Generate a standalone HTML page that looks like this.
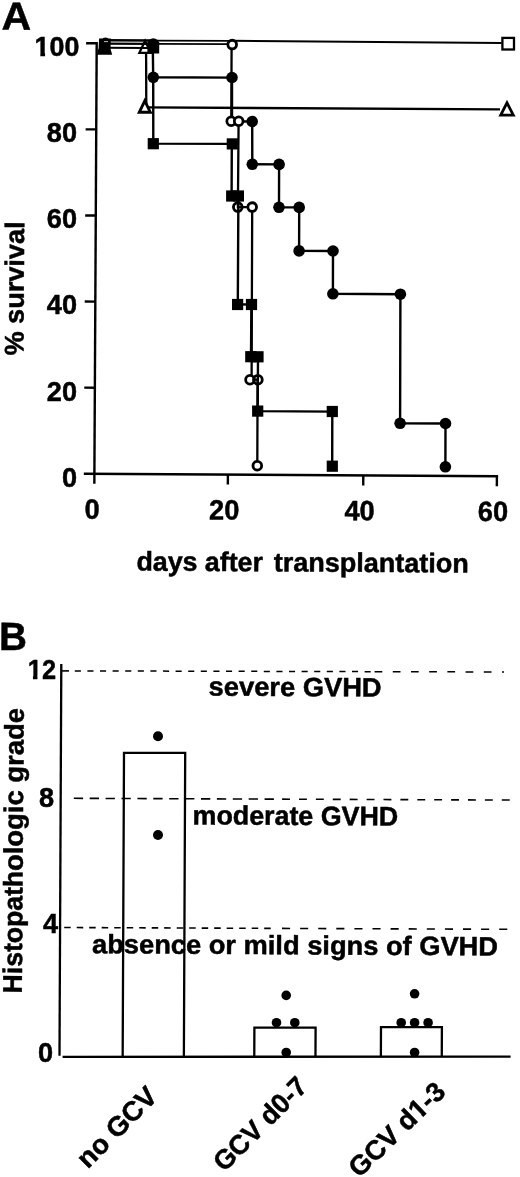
<!DOCTYPE html>
<html><head><meta charset="utf-8"><title>Figure</title>
<style>html,body{margin:0;padding:0;background:#fff}svg{display:block}text{fill:#000}</style></head>
<body>
<svg width="520" height="1177" viewBox="0 0 520 1177">
<text x="1.60" y="29.40" font-size="39" text-anchor="start" font-family="Liberation Sans, Arial, Helvetica, sans-serif" font-weight="bold" stroke="#000" stroke-width="0.5" stroke-linejoin="round" transform="rotate(0.33 1.60 29.40)" textLength="29.6" lengthAdjust="spacingAndGlyphs">A</text>
<line x1="96.70" y1="42.10" x2="94.35" y2="483.80" stroke="#000" stroke-width="2.4" />
<line x1="83.80" y1="473.73" x2="498.10" y2="476.20" stroke="#000" stroke-width="2.4" />
<line x1="86.10" y1="43.24" x2="96.70" y2="43.30" stroke="#000" stroke-width="2.4" />
<text x="79.40" y="56.10" font-size="28.0" text-anchor="end" font-family="Liberation Sans, Arial, Helvetica, sans-serif" font-weight="bold" stroke="#000" stroke-width="0.5" stroke-linejoin="round" transform="rotate(0 79.40 56.10)" textLength="44.8" lengthAdjust="spacingAndGlyphs">100</text>
<line x1="85.64" y1="129.34" x2="96.24" y2="129.40" stroke="#000" stroke-width="2.4" />
<text x="77.00" y="142.20" font-size="28.0" text-anchor="end" font-family="Liberation Sans, Arial, Helvetica, sans-serif" font-weight="bold" stroke="#000" stroke-width="0.5" stroke-linejoin="round" transform="rotate(0 77.00 142.20)" textLength="30.2" lengthAdjust="spacingAndGlyphs">80</text>
<line x1="85.18" y1="215.44" x2="95.78" y2="215.50" stroke="#000" stroke-width="2.4" />
<text x="77.00" y="228.30" font-size="28.0" text-anchor="end" font-family="Liberation Sans, Arial, Helvetica, sans-serif" font-weight="bold" stroke="#000" stroke-width="0.5" stroke-linejoin="round" transform="rotate(0 77.00 228.30)" textLength="30.2" lengthAdjust="spacingAndGlyphs">60</text>
<line x1="84.72" y1="301.54" x2="95.32" y2="301.60" stroke="#000" stroke-width="2.4" />
<text x="77.00" y="314.40" font-size="28.0" text-anchor="end" font-family="Liberation Sans, Arial, Helvetica, sans-serif" font-weight="bold" stroke="#000" stroke-width="0.5" stroke-linejoin="round" transform="rotate(0 77.00 314.40)" textLength="30.2" lengthAdjust="spacingAndGlyphs">40</text>
<line x1="84.26" y1="387.64" x2="94.86" y2="387.70" stroke="#000" stroke-width="2.4" />
<text x="77.00" y="400.50" font-size="28.0" text-anchor="end" font-family="Liberation Sans, Arial, Helvetica, sans-serif" font-weight="bold" stroke="#000" stroke-width="0.5" stroke-linejoin="round" transform="rotate(0 77.00 400.50)" textLength="30.2" lengthAdjust="spacingAndGlyphs">20</text>
<text x="77.00" y="486.60" font-size="28.0" text-anchor="end" font-family="Liberation Sans, Arial, Helvetica, sans-serif" font-weight="bold" stroke="#000" stroke-width="0.5" stroke-linejoin="round" transform="rotate(0 77.00 486.60)" textLength="15.1" lengthAdjust="spacingAndGlyphs">0</text>
<text x="92.00" y="518.70" font-size="28" text-anchor="middle" font-family="Liberation Sans, Arial, Helvetica, sans-serif" font-weight="bold" stroke="#000" stroke-width="0.5" stroke-linejoin="round" transform="rotate(0.33 92.00 518.70)" textLength="15.1" lengthAdjust="spacingAndGlyphs">0</text>
<line x1="227.90" y1="474.60" x2="227.84" y2="484.60" stroke="#000" stroke-width="2.4" />
<text x="224.20" y="519.50" font-size="28" text-anchor="middle" font-family="Liberation Sans, Arial, Helvetica, sans-serif" font-weight="bold" stroke="#000" stroke-width="0.5" stroke-linejoin="round" transform="rotate(0.33 224.20 519.50)" textLength="30.2" lengthAdjust="spacingAndGlyphs">20</text>
<line x1="363.30" y1="475.40" x2="363.24" y2="485.40" stroke="#000" stroke-width="2.4" />
<text x="359.60" y="520.30" font-size="28" text-anchor="middle" font-family="Liberation Sans, Arial, Helvetica, sans-serif" font-weight="bold" stroke="#000" stroke-width="0.5" stroke-linejoin="round" transform="rotate(0.33 359.60 520.30)" textLength="30.2" lengthAdjust="spacingAndGlyphs">40</text>
<line x1="496.90" y1="476.20" x2="496.84" y2="486.20" stroke="#000" stroke-width="2.4" />
<text x="492.90" y="521.10" font-size="28" text-anchor="middle" font-family="Liberation Sans, Arial, Helvetica, sans-serif" font-weight="bold" stroke="#000" stroke-width="0.5" stroke-linejoin="round" transform="rotate(0.33 492.90 521.10)" textLength="30.2" lengthAdjust="spacingAndGlyphs">60</text>
<text x="23.40" y="355.50" font-size="27" text-anchor="start" font-family="Liberation Sans, Arial, Helvetica, sans-serif" font-weight="bold" stroke="#000" stroke-width="0.5" stroke-linejoin="round" transform="rotate(-89.67 23.40 355.50)" textLength="134" lengthAdjust="spacingAndGlyphs">% survival</text>
<text x="136.40" y="570.60" font-size="27" text-anchor="start" font-family="Liberation Sans, Arial, Helvetica, sans-serif" font-weight="bold" stroke="#000" stroke-width="0.5" stroke-linejoin="round" transform="rotate(0.33 136.40 570.60)" textLength="126.5" lengthAdjust="spacingAndGlyphs">days after</text>
<text x="273.70" y="571.40" font-size="27" text-anchor="start" font-family="Liberation Sans, Arial, Helvetica, sans-serif" font-weight="bold" stroke="#000" stroke-width="0.5" stroke-linejoin="round" transform="rotate(0.33 273.70 571.40)" textLength="195.2" lengthAdjust="spacingAndGlyphs">transplantation</text>
<rect x="35.0" y="52.7" width="5.35" height="4.80" fill="#fff"/>
<rect x="45.05" y="52.7" width="4.85" height="4.80" fill="#fff"/>
<polyline points="104.00,40.20 153.00,40.50" fill="none" stroke="#000" stroke-width="2.6" stroke-linejoin="miter"/>
<polyline points="104.00,43.55 153.00,43.80" fill="none" stroke="#000" stroke-width="2.3" stroke-linejoin="miter"/>
<polyline points="104.00,47.80 150.00,48.00" fill="none" stroke="#000" stroke-width="2.1" stroke-linejoin="miter"/>
<polyline points="153.00,40.60 232.00,40.90" fill="none" stroke="#000" stroke-width="1.7" stroke-linejoin="miter"/>
<polyline points="153.00,43.80 232.00,44.10" fill="none" stroke="#000" stroke-width="1.7" stroke-linejoin="miter"/>
<polyline points="232.00,40.80 501.50,42.90" fill="none" stroke="#000" stroke-width="2.0" stroke-linejoin="miter"/>
<polyline points="146.10,53.00 146.30,107.40" fill="none" stroke="#000" stroke-width="2.3" stroke-linejoin="miter"/>
<polyline points="146.30,107.40 500.00,109.40" fill="none" stroke="#000" stroke-width="2.3" stroke-linejoin="miter"/>
<polyline points="152.80,46.00 153.20,77.30 232.00,77.60 232.00,121.40 252.20,121.50 252.30,164.30 279.10,164.40 279.00,207.30 299.20,207.40 299.10,250.90 333.00,251.00 332.90,293.70 400.40,294.20 400.10,423.30 445.50,423.50 445.40,466.80" fill="none" stroke="#000" stroke-width="2.4" stroke-linejoin="miter"/>
<polyline points="153.20,77.00 153.30,143.60 231.80,143.90 231.60,196.00 238.40,196.00 237.80,304.40 251.40,304.50 251.00,356.70 258.00,356.80 257.70,411.10 332.30,411.60 332.20,466.20" fill="none" stroke="#000" stroke-width="2.4" stroke-linejoin="miter"/>
<polyline points="231.60,44.00 231.30,121.30 238.60,121.40 237.90,207.00 252.20,207.10 251.60,379.60 257.60,379.70 257.30,465.70" fill="none" stroke="#000" stroke-width="2.3" stroke-linejoin="miter"/>
<polygon points="96.9,54.7 98.6,48 99.1,38.5 110.85,38.6 110.5,48.8 112.2,54.7" fill="#000"/>
<ellipse cx="105.5" cy="39.4" rx="2.9" ry="1.8" fill="#000"/>
<line x1="104.00" y1="41.60" x2="108.00" y2="41.60" stroke="#fff" stroke-width="1.0" opacity="0.75"/>
<polygon points="145.10,40.90 150.90,52.90 139.30,52.90" fill="none" stroke="#000" stroke-width="2.2" stroke-linejoin="miter"/>
<rect x="147.40" y="41.70" width="11.8" height="11.8" fill="#000"/>
<circle cx="153.30" cy="43.80" r="5.6" fill="#000"/>
<polygon points="144.80,100.90 150.30,112.20 139.30,112.20" fill="#fff" stroke="#000" stroke-width="2.9" stroke-linejoin="miter"/>
<rect x="502.40" y="37.90" width="11.6" height="11.6" fill="#fff" stroke="#000" stroke-width="2.3"/>
<polygon points="507.00,102.80 513.30,115.20 500.70,115.20" fill="#fff" stroke="#000" stroke-width="2.8" stroke-linejoin="miter"/>
<circle cx="153.30" cy="77.30" r="5.8" fill="#000"/>
<circle cx="232.00" cy="77.50" r="5.8" fill="#000"/>
<circle cx="252.20" cy="121.50" r="5.8" fill="#000"/>
<circle cx="252.30" cy="164.30" r="5.8" fill="#000"/>
<circle cx="279.10" cy="164.40" r="5.8" fill="#000"/>
<circle cx="279.00" cy="207.30" r="5.8" fill="#000"/>
<circle cx="299.20" cy="207.40" r="5.8" fill="#000"/>
<circle cx="299.10" cy="250.90" r="5.8" fill="#000"/>
<circle cx="333.00" cy="251.00" r="5.8" fill="#000"/>
<circle cx="332.90" cy="293.80" r="5.8" fill="#000"/>
<circle cx="400.40" cy="294.20" r="5.8" fill="#000"/>
<circle cx="400.10" cy="423.30" r="5.8" fill="#000"/>
<circle cx="445.50" cy="423.50" r="5.8" fill="#000"/>
<circle cx="445.40" cy="466.80" r="5.8" fill="#000"/>
<rect x="147.70" y="138.10" width="11.2" height="11.2" fill="#000"/>
<rect x="226.70" y="138.30" width="11.2" height="11.2" fill="#000"/>
<rect x="226.10" y="190.40" width="11.2" height="11.2" fill="#000"/>
<rect x="232.80" y="190.40" width="11.2" height="11.2" fill="#000"/>
<rect x="232.00" y="298.90" width="11.2" height="11.2" fill="#000"/>
<rect x="245.90" y="298.90" width="11.2" height="11.2" fill="#000"/>
<rect x="245.20" y="351.10" width="11.2" height="11.2" fill="#000"/>
<rect x="252.40" y="351.20" width="11.2" height="11.2" fill="#000"/>
<rect x="252.10" y="405.50" width="11.2" height="11.2" fill="#000"/>
<rect x="326.70" y="405.90" width="11.2" height="11.2" fill="#000"/>
<rect x="326.70" y="460.60" width="11.2" height="11.2" fill="#000"/>
<circle cx="232.20" cy="44.60" r="4.35" fill="#fff" stroke="#000" stroke-width="2.8"/>
<circle cx="231.20" cy="121.30" r="4.35" fill="#fff" stroke="#000" stroke-width="2.8"/>
<circle cx="238.70" cy="121.30" r="4.35" fill="#fff" stroke="#000" stroke-width="2.8"/>
<circle cx="237.80" cy="207.10" r="4.35" fill="none" stroke="#000" stroke-width="2.8"/>
<circle cx="252.20" cy="207.10" r="4.35" fill="#fff" stroke="#000" stroke-width="2.8"/>
<circle cx="250.00" cy="379.70" r="4.35" fill="#fff" stroke="#000" stroke-width="2.8"/>
<circle cx="257.90" cy="379.70" r="4.35" fill="none" stroke="#000" stroke-width="2.8"/>
<circle cx="257.30" cy="465.70" r="4.35" fill="#fff" stroke="#000" stroke-width="2.8"/>
<text x="-1.10" y="650.00" font-size="39.5" text-anchor="start" font-family="Liberation Sans, Arial, Helvetica, sans-serif" font-weight="bold" stroke="#000" stroke-width="0.5" stroke-linejoin="round" transform="rotate(0.33 -1.10 650.00)" textLength="27.9" lengthAdjust="spacingAndGlyphs">B</text>
<line x1="61.30" y1="664.00" x2="59.50" y2="1055.80" stroke="#000" stroke-width="2.3" />
<line x1="62.60" y1="1056.80" x2="510.60" y2="1056.70" stroke="#000" stroke-width="2.3" />
<line x1="61.30" y1="670.90" x2="69.00" y2="670.90" stroke="#000" stroke-width="1.6" />
<line x1="74.80" y1="670.90" x2="372.00" y2="671.65" stroke="#000" stroke-width="1.5" stroke-dasharray="6.1 6.5"/>
<line x1="374.60" y1="671.65" x2="504.00" y2="672.00" stroke="#000" stroke-width="1.5" stroke-dasharray="7.7 10.5"/>
<line x1="73.80" y1="798.30" x2="279.00" y2="799.15" stroke="#000" stroke-width="1.6" stroke-dasharray="9.3 6.6"/>
<line x1="282.10" y1="799.15" x2="516.50" y2="800.10" stroke="#000" stroke-width="1.6" stroke-dasharray="7.9 9.0"/>
<line x1="64.20" y1="927.50" x2="276.50" y2="928.40" stroke="#000" stroke-width="1.6" stroke-dasharray="6.5 6.0"/>
<line x1="282.00" y1="928.40" x2="508.00" y2="929.30" stroke="#000" stroke-width="1.6" stroke-dasharray="8.1 10.0"/>
<text x="56.00" y="679.40" font-size="28" text-anchor="end" font-family="Liberation Sans, Arial, Helvetica, sans-serif" font-weight="bold" stroke="#000" stroke-width="0.5" stroke-linejoin="round" transform="rotate(0 56.00 679.40)" textLength="28.2" lengthAdjust="spacingAndGlyphs">12</text>
<rect x="28.0" y="675.6" width="4.95" height="4.90" fill="#fff"/>
<rect x="37.45" y="675.6" width="4.85" height="4.90" fill="#fff"/>
<text x="54.00" y="807.00" font-size="28" text-anchor="end" font-family="Liberation Sans, Arial, Helvetica, sans-serif" font-weight="bold" stroke="#000" stroke-width="0.5" stroke-linejoin="round" transform="rotate(0 54.00 807.00)" textLength="15.1" lengthAdjust="spacingAndGlyphs">8</text>
<text x="58.00" y="933.30" font-size="28" text-anchor="end" font-family="Liberation Sans, Arial, Helvetica, sans-serif" font-weight="bold" stroke="#000" stroke-width="0.5" stroke-linejoin="round" transform="rotate(0 58.00 933.30)" textLength="15.1" lengthAdjust="spacingAndGlyphs">4</text>
<text x="53.00" y="1061.90" font-size="28" text-anchor="end" font-family="Liberation Sans, Arial, Helvetica, sans-serif" font-weight="bold" stroke="#000" stroke-width="0.5" stroke-linejoin="round" transform="rotate(0 53.00 1061.90)" textLength="15.1" lengthAdjust="spacingAndGlyphs">0</text>
<text x="21.80" y="993.40" font-size="27" text-anchor="start" font-family="Liberation Sans, Arial, Helvetica, sans-serif" font-weight="bold" stroke="#000" stroke-width="0.5" stroke-linejoin="round" transform="rotate(-89.6 21.80 993.40)" textLength="122.4" lengthAdjust="spacingAndGlyphs">Histopath</text>
<text x="22.65" y="871.00" font-size="27" text-anchor="start" font-family="Liberation Sans, Arial, Helvetica, sans-serif" font-weight="bold" stroke="#000" stroke-width="0.5" stroke-linejoin="round" transform="rotate(-89.6 22.65 871.00)" textLength="163.0" lengthAdjust="spacingAndGlyphs">ologic grade</text>
<text x="208.60" y="695.60" font-size="26.5" text-anchor="start" font-family="Liberation Sans, Arial, Helvetica, sans-serif" font-weight="bold" stroke="#000" stroke-width="0.5" stroke-linejoin="round" transform="rotate(0.33 208.60 695.60)" textLength="173" lengthAdjust="spacingAndGlyphs">severe GVHD</text>
<text x="192.60" y="824.40" font-size="26.8" text-anchor="start" font-family="Liberation Sans, Arial, Helvetica, sans-serif" font-weight="bold" stroke="#000" stroke-width="0.5" stroke-linejoin="round" transform="rotate(0.33 192.60 824.40)" textLength="205.5" lengthAdjust="spacingAndGlyphs">moderate GVHD</text>
<text x="92.00" y="953.20" font-size="26.5" text-anchor="start" font-family="Liberation Sans, Arial, Helvetica, sans-serif" font-weight="bold" stroke="#000" stroke-width="0.5" stroke-linejoin="round" transform="rotate(0.33 92.00 953.20)" textLength="406" lengthAdjust="spacingAndGlyphs">absence or mild signs of GVHD</text>
<polyline points="122.67,1056.80 124.00,752.80 185.20,752.90 183.87,1056.80" fill="none" stroke="#000" stroke-width="2.3" stroke-linejoin="miter"/>
<polyline points="254.27,1056.80 254.40,1027.60 315.60,1027.70 315.47,1056.80" fill="none" stroke="#000" stroke-width="2.3" stroke-linejoin="miter"/>
<polyline points="380.87,1056.80 381.00,1027.10 441.90,1027.20 441.77,1056.80" fill="none" stroke="#000" stroke-width="2.3" stroke-linejoin="miter"/>
<circle cx="158" cy="736.3" r="5.0" fill="#000"/>
<circle cx="158" cy="835" r="5.0" fill="#000"/>
<circle cx="286.2" cy="995.4" r="4.8" fill="#000"/>
<circle cx="276.5" cy="1022.7" r="4.8" fill="#000"/>
<circle cx="294.8" cy="1022.7" r="4.8" fill="#000"/>
<circle cx="286.2" cy="1052.5" r="4.8" fill="#000"/>
<circle cx="414.6" cy="993.8" r="4.8" fill="#000"/>
<circle cx="401.2" cy="1022.7" r="4.8" fill="#000"/>
<circle cx="414.6" cy="1022.7" r="4.8" fill="#000"/>
<circle cx="428.1" cy="1022.7" r="4.8" fill="#000"/>
<circle cx="414.6" cy="1052.5" r="4.8" fill="#000"/>
<text x="87.80" y="1169.40" font-size="27.5" text-anchor="start" font-family="Liberation Sans, Arial, Helvetica, sans-serif" font-weight="bold" stroke="#000" stroke-width="0.5" stroke-linejoin="round" transform="rotate(-45 87.80 1169.40)">no GCV</text>
<text x="224.20" y="1172.80" font-size="27.2" text-anchor="start" font-family="Liberation Sans, Arial, Helvetica, sans-serif" font-weight="bold" stroke="#000" stroke-width="0.5" stroke-linejoin="round" transform="rotate(-45 224.20 1172.80)" textLength="120" lengthAdjust="spacingAndGlyphs">GCV d0-7</text>
<text x="359.20" y="1178.40" font-size="27.2" text-anchor="start" font-family="Liberation Sans, Arial, Helvetica, sans-serif" font-weight="bold" stroke="#000" stroke-width="0.5" stroke-linejoin="round" transform="rotate(-44 359.20 1178.40)">GCV d1-3</text>
<g transform="translate(359.2 1178.4) rotate(-44)"><rect x="83.7" y="-3.8" width="4.95" height="4.8" fill="#fff"/><rect x="93.5" y="-3.8" width="4.5" height="4.8" fill="#fff"/></g>
</svg>
</body></html>
